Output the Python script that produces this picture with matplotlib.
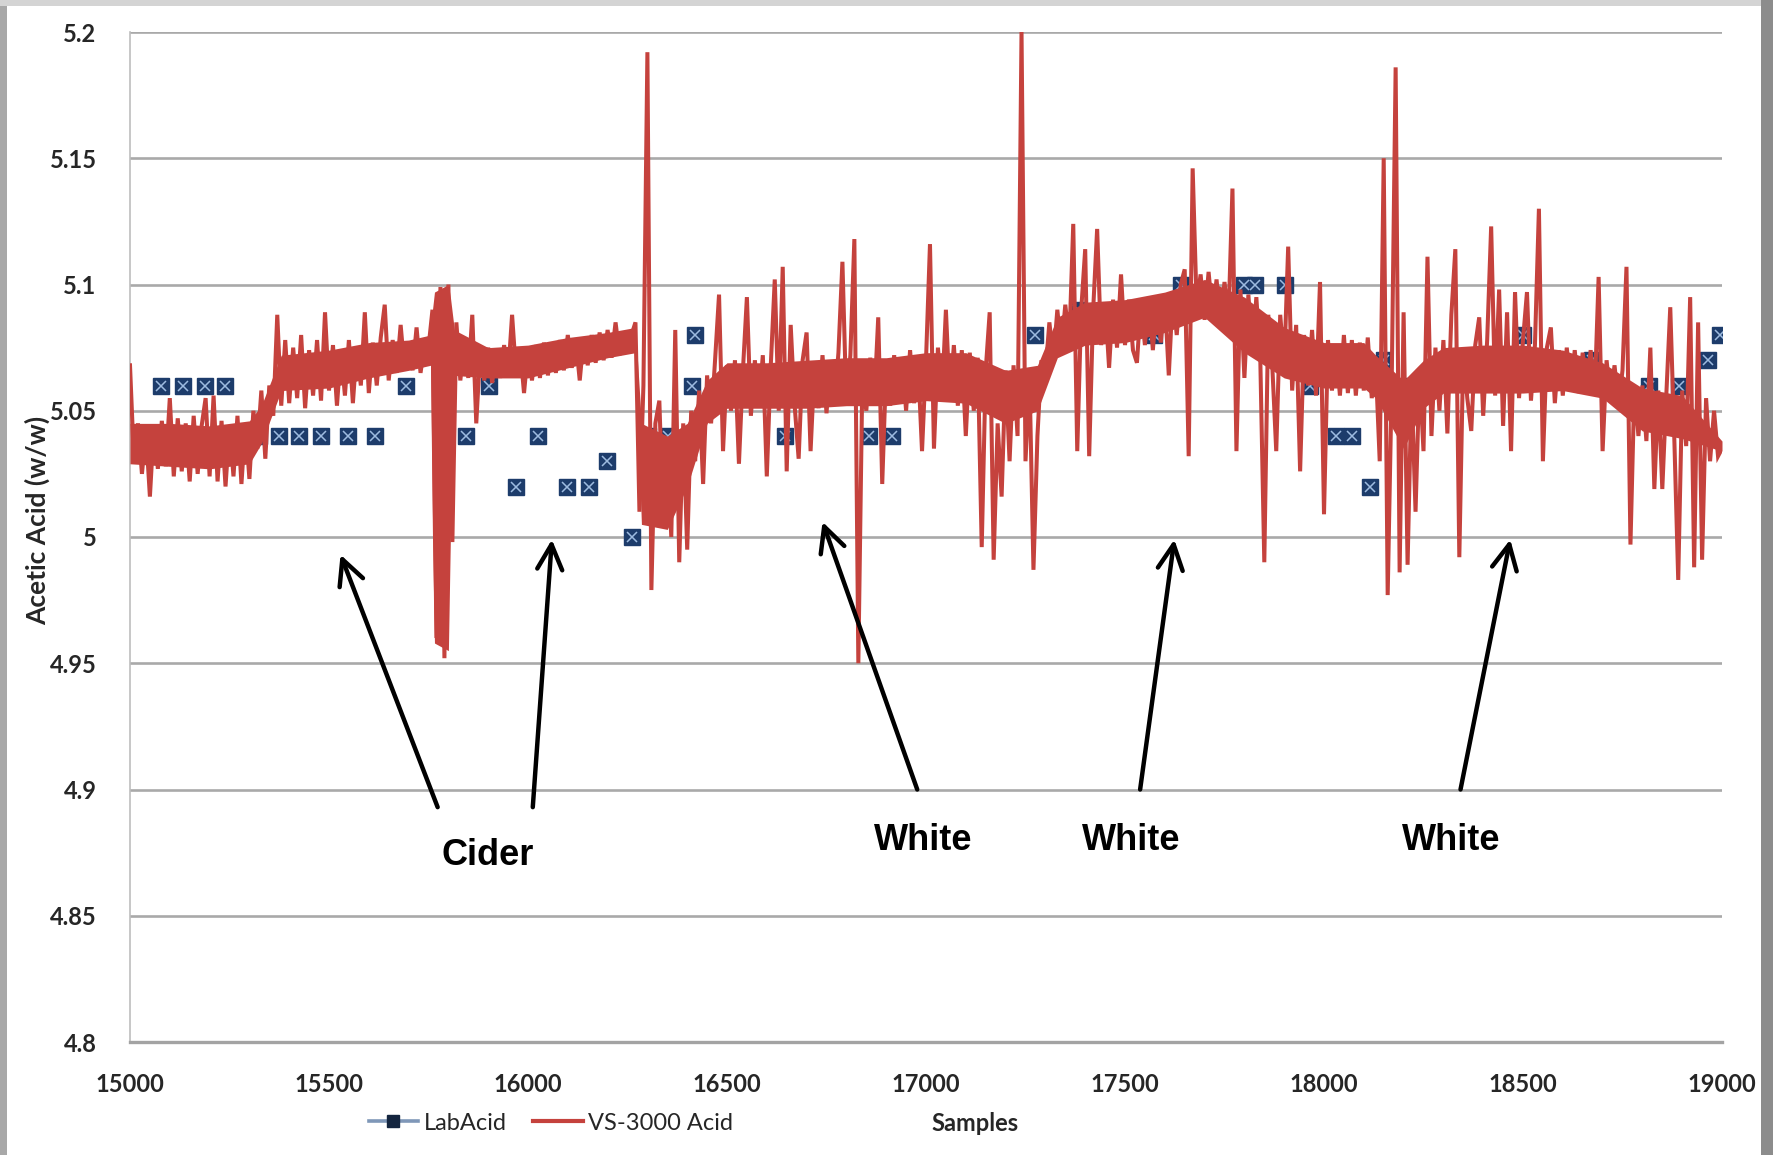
import numpy as np
import matplotlib
matplotlib.use("Agg")
import matplotlib.pyplot as plt
from matplotlib.lines import Line2D
from matplotlib.patches import Rectangle

plt.rcParams['font.family'] = ['Lato', 'DejaVu Sans']

# ---------------- data ----------------
x_ticks = [15000, 15500, 16000, 16500, 17000, 17500, 18000, 18500, 19000]
y_ticks = [4.8, 4.85, 4.9, 4.95, 5.0, 5.05, 5.1, 5.15, 5.2]
y_tick_labels = ["4.8", "4.85", "4.9", "4.95", "5", "5.05", "5.1", "5.15", "5.2"]

lab_x = [15078, 15133, 15188, 15239, 15324, 15374, 15425, 15480, 15548, 15616,
         15694, 15845, 15902, 15969, 16025, 16098, 16153, 16199, 16261, 16301,
         16352, 16412, 16420, 16646, 16772, 16858, 16915, 16955, 17084, 17120,
         17274, 17366, 17382, 17574, 17640, 17798, 17826, 17902, 17964, 18029,
         18070, 18115, 18150, 18216, 18501, 18674, 18817, 18892, 18966, 18996]
lab_y = [5.06, 5.06, 5.06, 5.06, 5.04, 5.04, 5.04, 5.04, 5.04, 5.04,
         5.06, 5.04, 5.06, 5.02, 5.04, 5.02, 5.02, 5.03, 5.00, 5.04,
         5.04, 5.06, 5.08, 5.04, 5.06, 5.04, 5.04, 5.06, 5.06, 5.06,
         5.08, 5.08, 5.09, 5.08, 5.10, 5.10, 5.10, 5.10, 5.06, 5.04,
         5.04, 5.02, 5.07, 5.06, 5.08, 5.07, 5.06, 5.06, 5.07, 5.08]

# VS-3000 readings, one every 10 samples from 15000 to 19000
vs_start = 15000
vs_step = 10
vs_y = [
    5.068, 5.030, 5.045, 5.025, 5.042, 5.016, 5.044, 5.027, 5.046, 5.028,  # 15000
    5.055, 5.024, 5.047, 5.026, 5.045, 5.022, 5.048, 5.025, 5.044, 5.055,  # 15100
    5.024, 5.056, 5.022, 5.046, 5.020, 5.044, 5.024, 5.048, 5.021, 5.045,  # 15200
    5.023, 5.050, 5.035, 5.058, 5.031, 5.060, 5.048, 5.088, 5.052, 5.078,  # 15300
    5.053, 5.075, 5.055, 5.080, 5.051, 5.074, 5.056, 5.078, 5.054, 5.089,  # 15400
    5.058, 5.076, 5.052, 5.074, 5.056, 5.078, 5.053, 5.075, 5.060, 5.089,  # 15500
    5.057, 5.077, 5.060, 5.079, 5.092, 5.062, 5.078, 5.065, 5.084, 5.066,  # 15600
    5.077, 5.066, 5.083, 5.065, 5.076, 5.075, 5.090, 4.960, 5.099, 4.952,  # 15700
    5.100, 4.998, 5.085, 5.062, 5.078, 5.063, 5.088, 5.045, 5.074, 5.062,  # 15800
    5.075, 5.061, 5.074, 5.063, 5.076, 5.064, 5.088, 5.065, 5.075, 5.057,  # 15900
    5.074, 5.062, 5.076, 5.063, 5.077, 5.064, 5.076, 5.065, 5.078, 5.066,  # 16000
    5.080, 5.067, 5.078, 5.062, 5.079, 5.068, 5.080, 5.069, 5.081, 5.070,  # 16100
    5.082, 5.071, 5.085, 5.072, 5.081, 5.073, 5.080, 5.085, 5.010, 5.060,  # 16200
    5.192, 4.979, 5.045, 5.054, 5.005, 5.035, 5.000, 5.082, 4.990, 5.045,  # 16300
    4.995, 5.050, 5.030, 5.058, 5.021, 5.064, 5.045, 5.070, 5.096, 5.034,  # 16400
    5.068, 5.050, 5.070, 5.029, 5.066, 5.095, 5.048, 5.070, 5.052, 5.072,  # 16500
    5.024, 5.068, 5.102, 5.050, 5.107, 5.026, 5.084, 5.052, 5.031, 5.070,  # 16600
    5.081, 5.034, 5.068, 5.051, 5.072, 5.049, 5.070, 5.053, 5.073, 5.109,  # 16700
    5.052, 5.072, 5.118, 4.950, 5.062, 5.050, 5.071, 5.054, 5.087, 5.021,  # 16800
    5.068, 5.052, 5.072, 5.055, 5.070, 5.050, 5.074, 5.053, 5.069, 5.034,  # 16900
    5.070, 5.116, 5.035, 5.075, 5.055, 5.090, 5.054, 5.076, 5.052, 5.074,  # 17000
    5.040, 5.073, 5.050, 5.071, 4.996, 5.066, 5.089, 4.991, 5.045, 5.016,  # 17100
    5.066, 5.030, 5.068, 5.040, 5.200, 5.030, 5.064, 4.987, 5.040, 5.070,  # 17200
    5.065, 5.085, 5.070, 5.090, 5.074, 5.092, 5.077, 5.124, 5.034, 5.090,  # 17300
    5.114, 5.032, 5.090, 5.122, 5.076, 5.093, 5.067, 5.094, 5.075, 5.104,  # 17400
    5.076, 5.094, 5.074, 5.069, 5.093, 5.076, 5.095, 5.074, 5.094, 5.077,  # 17500
    5.095, 5.064, 5.096, 5.080, 5.100, 5.106, 5.032, 5.146, 5.092, 5.104,  # 17600
    5.086, 5.105, 5.088, 5.102, 5.085, 5.101, 5.086, 5.138, 5.034, 5.098,  # 17700
    5.063, 5.096, 5.073, 5.095, 5.070, 4.990, 5.088, 5.068, 5.034, 5.088,  # 17800
    5.068, 5.115, 5.058, 5.084, 5.026, 5.080, 5.060, 5.082, 5.056, 5.101,  # 17900
    5.009, 5.078, 5.058, 5.076, 5.056, 5.080, 5.057, 5.078, 5.056, 5.077,  # 18000
    5.058, 5.079, 5.055, 5.068, 5.030, 5.150, 4.977, 5.060, 5.186, 4.986,  # 18100
    5.089, 4.989, 5.060, 5.010, 5.065, 5.034, 5.111, 5.040, 5.075, 5.050,  # 18200
    5.078, 5.041, 5.088, 5.114, 4.992, 5.074, 5.055, 5.042, 5.076, 5.087,  # 18300
    5.048, 5.078, 5.123, 5.056, 5.098, 5.044, 5.089, 5.034, 5.097, 5.055,  # 18400
    5.078, 5.097, 5.054, 5.076, 5.130, 5.030, 5.075, 5.083, 5.053, 5.074,  # 18500
    5.056, 5.075, 5.058, 5.074, 5.057, 5.073, 5.059, 5.074, 5.056, 5.103,  # 18600
    5.034, 5.070, 5.055, 5.068, 5.052, 5.066, 5.107, 4.997, 5.060, 5.040,  # 18700
    5.060, 5.038, 5.075, 5.019, 5.058, 5.019, 5.056, 5.091, 5.040, 4.983,  # 18800
    5.058, 5.036, 5.095, 4.988, 5.085, 4.991, 5.055, 5.030, 5.050, 5.032,  # 18900
    5.035,                                                                  # 19000
]

# dense core of the VS-3000 trace (where readings overlap into a solid band)
band_x = [15000, 15100, 15200, 15300, 15330, 15380, 15500, 15600, 15700, 15755,
          15760, 15765, 15800, 15805, 15815, 15900, 16000, 16100, 16200, 16270,
          16285, 16350, 16400, 16450, 16500, 16600, 16700, 16800, 16900, 17000,
          17100, 17200, 17280, 17330, 17400, 17500, 17600, 17700, 17800, 17900,
          18000, 18100, 18130, 18200, 18250, 18300, 18400, 18500, 18600, 18700,
          18800, 18900, 19000]
band_lo = [5.029, 5.028, 5.027, 5.029, 5.037, 5.058, 5.059, 5.063, 5.066, 5.068,
           5.000, 4.958, 4.955, 5.000, 5.064, 5.063, 5.063, 5.067, 5.071, 5.073,
           5.005, 5.003, 5.020, 5.045, 5.051, 5.051, 5.051, 5.052, 5.052, 5.054,
           5.053, 5.045, 5.050, 5.071, 5.076, 5.077, 5.081, 5.087, 5.073, 5.063,
           5.059, 5.059, 5.055, 5.035, 5.051, 5.057, 5.057, 5.057, 5.058, 5.055,
           5.042, 5.039, 5.034]
band_hi = [5.045, 5.045, 5.044, 5.046, 5.052, 5.072, 5.074, 5.077, 5.078, 5.080,
           5.090, 5.097, 5.100, 5.095, 5.082, 5.075, 5.076, 5.079, 5.081, 5.083,
           5.045, 5.040, 5.045, 5.062, 5.069, 5.069, 5.070, 5.071, 5.071, 5.073,
           5.073, 5.066, 5.068, 5.087, 5.093, 5.094, 5.097, 5.102, 5.095, 5.083,
           5.077, 5.077, 5.072, 5.062, 5.070, 5.075, 5.076, 5.076, 5.074, 5.069,
           5.059, 5.056, 5.038]

# annotations: label, text position, arrow tails/heads (data coords)
ann_labels = ["Cider", "White", "White", "White"]
ann_text_x = [15898, 16993, 17516, 18320]
ann_text_y = [4.874, 4.880, 4.880, 4.880]
arrow_tail_x = [15773, 16012, 16978, 17538, 18343]
arrow_tail_y = [4.893, 4.893, 4.900, 4.900, 4.900]
arrow_head_x = [15529, 16060, 16740, 17624, 18468]
arrow_head_y = [4.993, 4.999, 5.006, 4.999, 4.999]

# ---------------- figure ----------------
W, H = 1774, 1155
RED = "#c5423d"
fig = plt.figure(figsize=(W / 100, H / 100), dpi=100, facecolor="white")

# grey frame around the picture
fig.patches.append(Rectangle((0, 0), 7 / W, 1, transform=fig.transFigure,
                             facecolor="#a8a8a8", edgecolor="none", zorder=0))
fig.patches.append(Rectangle((0, 1 - 6 / H), 1, 6 / H, transform=fig.transFigure,
                             facecolor="#d4d4d4", edgecolor="none", zorder=0))
fig.patches.append(Rectangle((1 - 13 / W, 0), 13 / W, 1, transform=fig.transFigure,
                             facecolor="#8c8c8c", edgecolor="none", zorder=0))

ax = fig.add_axes([130 / W, 1 - 1042 / H, 1592 / W, 1010 / H])
ax.set_facecolor("white")

ax.set_xlim(15000, 19000)
ax.set_ylim(4.8, 5.2)

# grid
for v in y_ticks[1:]:
    ax.axhline(v, color="#a9a9a9", lw=1.9, zorder=1)

for s in ["top", "right"]:
    ax.spines[s].set_visible(False)
ax.spines["left"].set_color("#bdbdbd")
ax.spines["left"].set_linewidth(1.2)
ax.spines["bottom"].set_color("#a3a3a3")
ax.spines["bottom"].set_linewidth(2.4)

# LabAcid markers (drawn beneath the VS-3000 trace)
ax.plot(lab_x, lab_y, linestyle="none", marker="s", markersize=11,
        markerfacecolor="#1d3c6b", markeredgecolor="#1d3c6b", zorder=2)
ax.plot(lab_x, lab_y, linestyle="none", marker="x", markersize=6.5,
        markeredgecolor="#9dbbe0", markeredgewidth=1.1, zorder=2.1)

# VS-3000 trace
ax.fill_between(band_x, band_lo, band_hi, color=RED, lw=0, zorder=3)
vs_x = vs_start + vs_step * np.arange(len(vs_y))
ax.plot(vs_x, vs_y, color=RED, lw=2.9, solid_joinstyle="miter", zorder=3)

# ticks
ax.set_xticks(x_ticks)
ax.set_xticklabels([str(t) for t in x_ticks])
ax.set_yticks(y_ticks)
ax.set_yticklabels(y_tick_labels)
ax.tick_params(axis="both", length=0, labelsize=17, colors="#262626")
ax.tick_params(axis="y", pad=24)
ax.tick_params(axis="x", pad=22)
for lab in ax.get_xticklabels() + ax.get_yticklabels():
    lab.set_fontweight("bold")

ax.set_ylabel("Acetic Acid (w/w)", fontsize=19, fontweight="bold", color="#262626")
ax.yaxis.label.set_va("center")
ax.yaxis.set_label_coords(-0.058, 0.516)
ax.set_xlabel("Samples", fontsize=17, fontweight="bold", color="#262626")
ax.xaxis.set_label_coords(0.531, -0.081)
ax.xaxis.label.set_va("center")

# arrows and labels
for tx, ty, hx, hy in zip(arrow_tail_x, arrow_tail_y, arrow_head_x, arrow_head_y):
    ax.annotate("", xy=(hx, hy), xytext=(tx, ty),
                arrowprops=dict(arrowstyle="->,head_length=0.6,head_width=0.3",
                                lw=3.2, color="black", mutation_scale=30,
                                shrinkA=0, shrinkB=0), zorder=5)
for lab, tx, ty in zip(ann_labels, ann_text_x, ann_text_y):
    ax.text(tx, ty, lab, ha="center", va="center", fontsize=26,
            fontweight="bold", family=["Liberation Sans", "DejaVu Sans"], zorder=5)

# legend
h_lab = Line2D([], [], color="#7f97b8", lw=2.6, marker="s", markersize=9,
               markerfacecolor="#14253f", markeredgecolor="#14253f")
h_vs = Line2D([], [], color=RED, lw=3)
fig.legend([h_lab, h_vs], ["LabAcid", "VS-3000 Acid"], loc="center",
           bbox_to_anchor=(551 / W, 1 - 1123 / H), ncol=2, frameon=False,
           fontsize=17, handlelength=2.1, handletextpad=0.25, columnspacing=1.1,
           borderpad=0, labelcolor="#262626")

fig.savefig("out.png", dpi=100, facecolor=fig.get_facecolor())
